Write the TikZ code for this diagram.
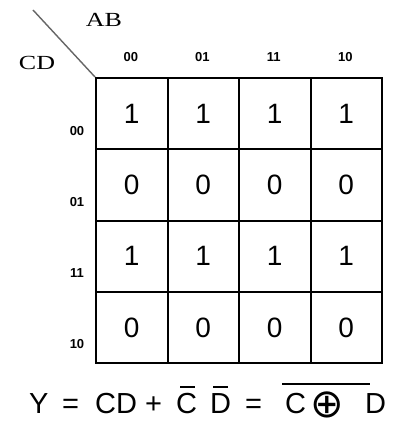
\documentclass[tikz,border=0pt]{standalone}
\usepackage{fontspec}
\setmainfont{Liberation Sans}
\newfontfamily\headserif{Liberation Serif}
\newfontfamily\symfont{DejaVu Sans}
\begin{document}
\begin{tikzpicture}[x=1pt,y=-1pt,
  cell/.style={draw, line width=2pt, minimum width=71.5pt, minimum height=71.25pt,
    inner sep=0, font=\fontsize{28}{28}\selectfont},
  hdr/.style={font=\bfseries\fontsize{13}{13}\selectfont, inner sep=0},
  var/.style={font=\headserif\fontsize{20}{20}\selectfont, inner sep=0, xscale=1.3},
  eq/.style={font=\fontsize{29}{29}\selectfont, inner sep=0, anchor=base west},
  bar/.style={line width=2pt}]
\useasboundingbox[fill=white] (0,0) rectangle (394,438);

% Karnaugh map cells: rows CD = 00,01,11,10 ; columns AB = 00,01,11,10
\foreach \r/\v in {0/1,1/0,2/1,3/0}{
  \foreach \c in {0,1,2,3}{
    \node[cell] (k-\r-\c) at ({96+71.5*(\c+0.5)},{78+71.25*(\r+0.5)}) {\v};
  }
}

% column and row labels
\foreach \c/\t in {0/00,1/01,2/11,3/10}{
  \node[hdr] (col-\c) at ({96+71.5*(\c+0.5)-1},57) {\t};
}
\foreach \r/\t in {0/00,1/01,2/11,3/10}{
  \node[hdr] (row-\r) at (77,{78+71.25*(\r+0.5)+17}) {\t};
}

% corner with variable names
\coordinate (diagtop) at (33,10);
\draw[gray!80!black, line width=1.4pt] (diagtop) -- (k-0-0.north west);
\node[var] (ab) at (104,20) {AB};
\node[var] (cd) at (37,63) {CD};

% simplified expression
\node[eq] (y)  at (29,413) {Y};
\node[eq] (e1) at (62,413) {=};
\node[eq] (t1) at (95,413) {CD};
\node[eq] (pl) at (145,413) {+};
\node[eq] (c2) at (176,413) {C};
\node[eq] (d2) at (210,413) {D};
\node[eq] (e2) at (245,413) {=};
\node[eq] (c3) at (285,413) {C};
\node[font=\symfont\fontsize{40}{40}\selectfont, inner sep=0] (xo) at (327,405) {⊕};
\node[eq] (d3) at (365,413) {D};
\draw[bar] (180,387) -- (195,387);
\draw[bar] (213,387) -- (228,387);
\draw[bar] (282,384) -- (370,384);
\end{tikzpicture}
\end{document}
